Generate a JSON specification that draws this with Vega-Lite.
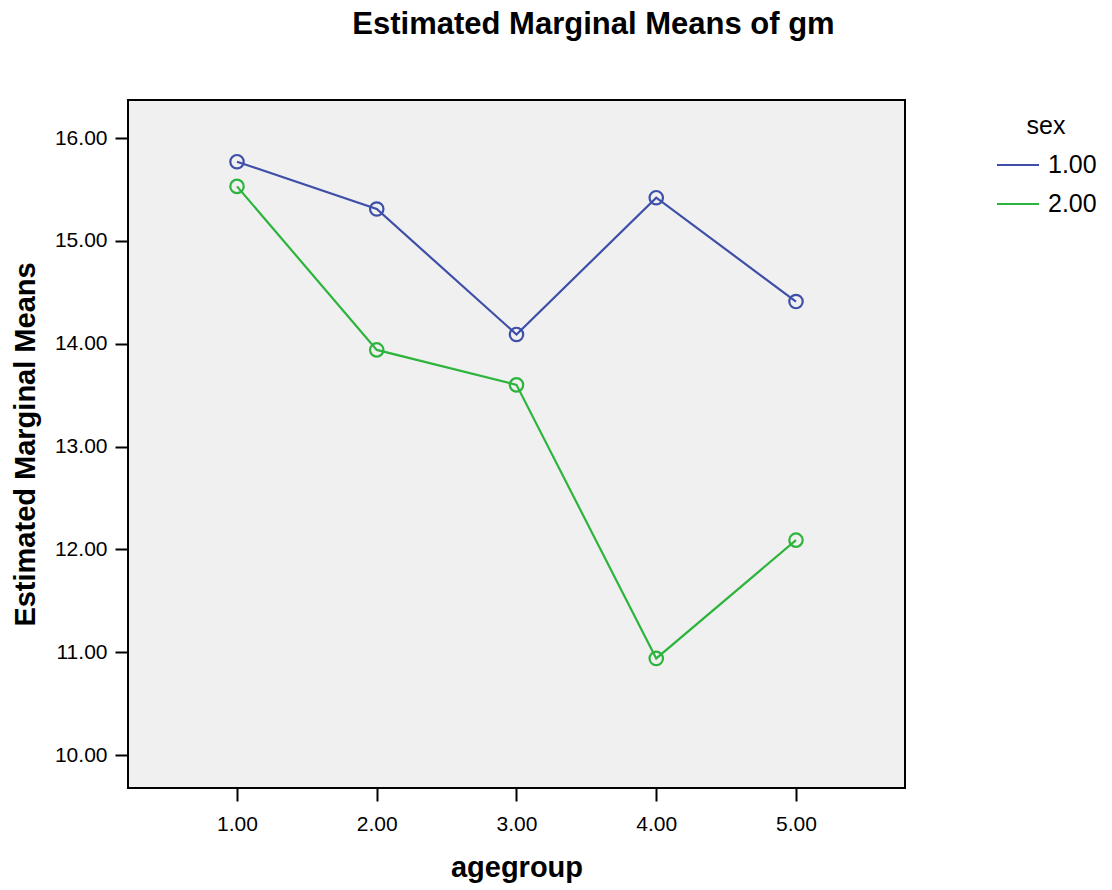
{
  "$schema": "https://vega.github.io/schema/vega-lite/v6.json",
  "width": 777,
  "height": 688,
  "autosize": {"type": "none"},
  "padding": {"left": 128, "top": 100, "right": 207, "bottom": 102},
  "background": "white",
  "config": {
    "font": "Liberation Sans",
    "view": {"fill": "#f0f0f0", "stroke": "black", "strokeWidth": 2}
  },
  "title": {
    "text": "Estimated Marginal Means of gm",
    "fontSize": 31,
    "fontWeight": "bold",
    "font": "Liberation Sans",
    "color": "black",
    "anchor": "middle",
    "dx": 77,
    "offset": 59
  },
  "data": {
    "values": [
      {"agegroup": 1, "sex": "1.00", "mean": 15.77},
      {"agegroup": 2, "sex": "1.00", "mean": 15.31},
      {"agegroup": 3, "sex": "1.00", "mean": 14.09},
      {"agegroup": 4, "sex": "1.00", "mean": 15.42},
      {"agegroup": 5, "sex": "1.00", "mean": 14.41},
      {"agegroup": 1, "sex": "2.00", "mean": 15.53},
      {"agegroup": 2, "sex": "2.00", "mean": 13.94},
      {"agegroup": 3, "sex": "2.00", "mean": 13.60},
      {"agegroup": 4, "sex": "2.00", "mean": 10.94},
      {"agegroup": 5, "sex": "2.00", "mean": 12.09}
    ]
  },
  "encoding": {
    "x": {
      "field": "agegroup",
      "type": "quantitative",
      "scale": {"domain": [0.22, 5.78], "nice": false, "zero": false},
      "axis": {
        "title": "agegroup",
        "values": [1, 2, 3, 4, 5],
        "format": ".2f",
        "grid": false,
        "domain": false,
        "tickColor": "black",
        "tickWidth": 2,
        "tickSize": 13,
        "labelFontSize": 21,
        "labelColor": "black",
        "labelPadding": 12,
        "titleFontSize": 29,
        "titleFontWeight": "bold",
        "titleColor": "black",
        "titleBaseline": "alphabetic",
        "titleY": 88
      }
    },
    "y": {
      "field": "mean",
      "type": "quantitative",
      "scale": {"domain": [9.68, 16.37], "nice": false, "zero": false},
      "axis": {
        "title": "Estimated Marginal Means",
        "values": [10, 11, 12, 13, 14, 15, 16],
        "format": ".2f",
        "grid": false,
        "domain": false,
        "tickColor": "black",
        "tickWidth": 2,
        "tickSize": 13,
        "labelFontSize": 21,
        "labelColor": "black",
        "labelPadding": 8,
        "titleFontSize": 29,
        "titleFontWeight": "bold",
        "titleColor": "black",
        "titleBaseline": "alphabetic",
        "titleX": -94,
        "titleY": 344
      }
    },
    "color": {
      "field": "sex",
      "type": "nominal",
      "scale": {"domain": ["1.00", "2.00"], "range": ["#3d4fa8", "#2db43c"]},
      "legend": {
        "title": "sex",
        "orient": "none",
        "legendX": 868,
        "legendY": 14,
        "titleAnchor": "middle",
        "titleFontSize": 25,
        "titleFontWeight": "normal",
        "titleColor": "black",
        "titlePadding": 4,
        "labelFontSize": 25,
        "labelColor": "black",
        "labelOffset": 8,
        "symbolType": "stroke",
        "symbolSize": 1764,
        "symbolStrokeWidth": 2,
        "rowPadding": 4
      }
    }
  },
  "layer": [
    {"mark": {"type": "line", "strokeWidth": 2.2}},
    {"mark": {"type": "point", "shape": "circle", "filled": false, "size": 180, "strokeWidth": 2.2, "opacity": 1}}
  ]
}
